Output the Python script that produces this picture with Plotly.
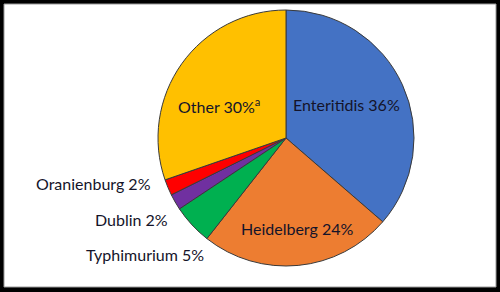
import plotly.graph_objects as go

labels = ["Enteritidis", "Heidelberg", "Typhimurium", "Dublin", "Oranienburg", "Other"]
values = [36, 24, 5, 2, 2, 30]
colors = ["#4472C4", "#ED7D31", "#00B050", "#7030A0", "#FF0000", "#FFC000"]
suffix = ["", "", "", "", "", "<sup>a</sup>"]

W, H = 500, 292

fig = go.Figure(go.Pie(
    labels=labels, values=values, sort=False, direction="clockwise", rotation=0,
    marker=dict(colors=colors, line=dict(color="#3a3a3a", width=1)),
    textinfo="none", hoverinfo="label+value", showlegend=False,
    domain=dict(x=[158 / W, 414 / W], y=[26 / H, 282 / H]),
))

# label positions (pixels from top-left) and anchors
pos = {
    "Enteritidis": (346, 104, "center"),
    "Heidelberg": (297, 228, "center"),
    "Typhimurium": (206, 254, "right"),
    "Dublin": (170, 219, "right"),
    "Oranienburg": (153, 183, "right"),
    "Other": (219, 105, "center"),
}
anns = []
for lab, val, suf in zip(labels, values, suffix):
    px, py, anchor = pos[lab]
    anns.append(dict(
        x=px / W, y=1 - py / H, xref="paper", yref="paper",
        text=f"{lab} {val}%{suf}", showarrow=False,
        xanchor=anchor, yanchor="middle",
        font=dict(family="Lato", size=16, color="#14142a"),
    ))

fig.update_layout(
    width=W, height=H, margin=dict(l=0, r=0, t=0, b=0),
    paper_bgcolor="#000000", plot_bgcolor="#000000",
    annotations=anns,
    shapes=[dict(type="rect", xref="paper", yref="paper",
                 x0=4 / W, x1=1 - 4 / W, y0=5 / H, y1=1 - 4 / H,
                 fillcolor="white", line=dict(color="#9a9a9a", width=1), layer="below")],
)
fig.write_html("out.html")
